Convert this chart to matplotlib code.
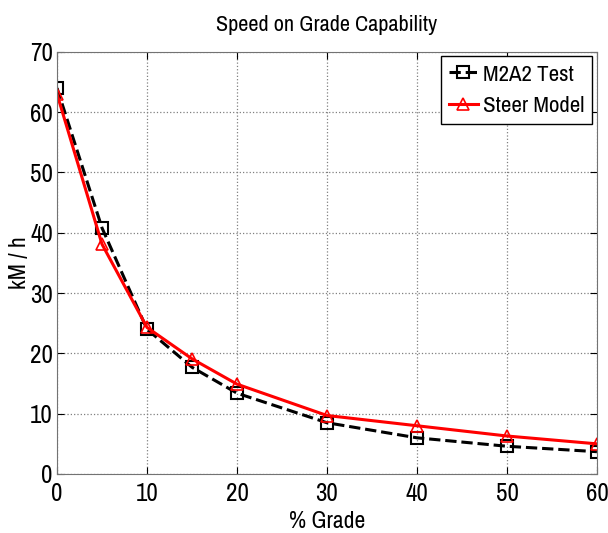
import matplotlib
matplotlib.use("Agg")
import matplotlib.pyplot as plt

grade = [0, 5, 10, 15, 20, 30, 40, 50, 60]
m2a2_test = [64.0, 40.8, 24.0, 17.7, 13.4, 8.5, 6.0, 4.6, 3.7]
steer_model = [63.0, 38.1, 24.3, 19.1, 14.9, 9.7, 8.0, 6.3, 5.0]

plt.rcParams["font.family"] = ["Archivo Narrow", "DejaVu Sans"]

fig = plt.figure(figsize=(6.08, 5.33), dpi=100)
ax = fig.add_axes([0.0938, 0.1107, 0.888, 0.792])

ax.plot(grade, m2a2_test, "k--", marker="s", markersize=8, markerfacecolor="none",
        markeredgewidth=1.5, linewidth=2.2, label="M2A2 Test")
ax.plot(grade, steer_model, "r-", marker="^", markersize=8, markerfacecolor="none",
        markeredgewidth=1.2, linewidth=2.2, label="Steer Model")

ax.set_xlim(0, 60)
ax.set_ylim(0, 70)
ax.set_xticks([0, 10, 20, 30, 40, 50, 60])
ax.set_yticks(range(0, 71, 10))
ax.grid(True, linestyle=":", color="0.5", linewidth=0.9)
ax.tick_params(direction="in", top=True, right=True, labelsize=18, length=5)
ax.tick_params(axis="x", pad=6)
ax.tick_params(axis="y", pad=3)
for sp in ax.spines.values():
    sp.set_color("0.45")

ax.set_title("Speed on Grade Capability", fontsize=16, pad=15)
ax.set_xlabel("% Grade", fontsize=17, labelpad=4)
ax.set_ylabel("kM / h", fontsize=17, labelpad=0)

leg = ax.legend(loc="upper right", fontsize=16.5, fancybox=False, framealpha=1,
                edgecolor="black", handlelength=1.3, handletextpad=0.2,
                borderpad=0.35, labelspacing=0.5, borderaxespad=0.2)
leg.get_frame().set_linewidth(1.0)

fig.savefig("out.png", dpi=100)
